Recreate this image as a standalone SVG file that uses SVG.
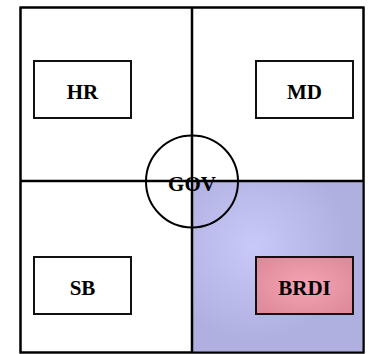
<svg xmlns="http://www.w3.org/2000/svg" width="369" height="354" viewBox="0 0 369 354">
<style>
.box{fill:#fff;stroke:#111;stroke-width:2}
.lbl{font-family:"Liberation Serif",serif;font-weight:bold;font-size:21px;text-anchor:middle;fill:#000}
.ln{stroke:#000;stroke-width:2.5;fill:none}
</style>
<defs>
<radialGradient id="bg" cx="0.36" cy="0.38" r="0.55">
<stop offset="0" stop-color="#c9c9f9"/>
<stop offset="1" stop-color="#b0b0e0"/>
</radialGradient>
<radialGradient id="pg" cx="0.5" cy="0.5" r="0.6">
<stop offset="0" stop-color="#f5a3b4"/>
<stop offset="1" stop-color="#df8b9b"/>
</radialGradient>
</defs>
<g id="quadrants">
<rect x="20.5" y="7.5" width="343" height="345" fill="#fff" stroke="#000" stroke-width="2"/>
<rect x="192" y="181" width="171.5" height="171.5" fill="url(#bg)"/>
<rect x="20.5" y="7.5" width="343" height="345" fill="none" stroke="#000" stroke-width="2"/>
</g>
<g id="connectors">
<line class="ln" x1="192" y1="7.5" x2="192" y2="352.5"/>
<line class="ln" x1="20.5" y1="181" x2="363.5" y2="181"/>
</g>
<g id="GOV">
<circle cx="192" cy="181.5" r="46" fill="none" stroke="#000" stroke-width="2"/>
<text class="lbl" x="192" y="190.5">GOV</text>
</g>
<g id="HR">
<rect class="box" x="34" y="61" width="97" height="57"/>
<text class="lbl" x="82.5" y="98.5">HR</text>
</g>
<g id="MD">
<rect class="box" x="256" y="61" width="97" height="57"/>
<text class="lbl" x="304.5" y="98.5">MD</text>
</g>
<g id="SB">
<rect class="box" x="34" y="257" width="97" height="57"/>
<text class="lbl" x="82.5" y="294.5">SB</text>
</g>
<g id="BRDI">
<rect class="box" x="256" y="257" width="97" height="57" style="fill:url(#pg)"/>
<text class="lbl" x="304.5" y="294.5">BRDI</text>
</g>
</svg>
